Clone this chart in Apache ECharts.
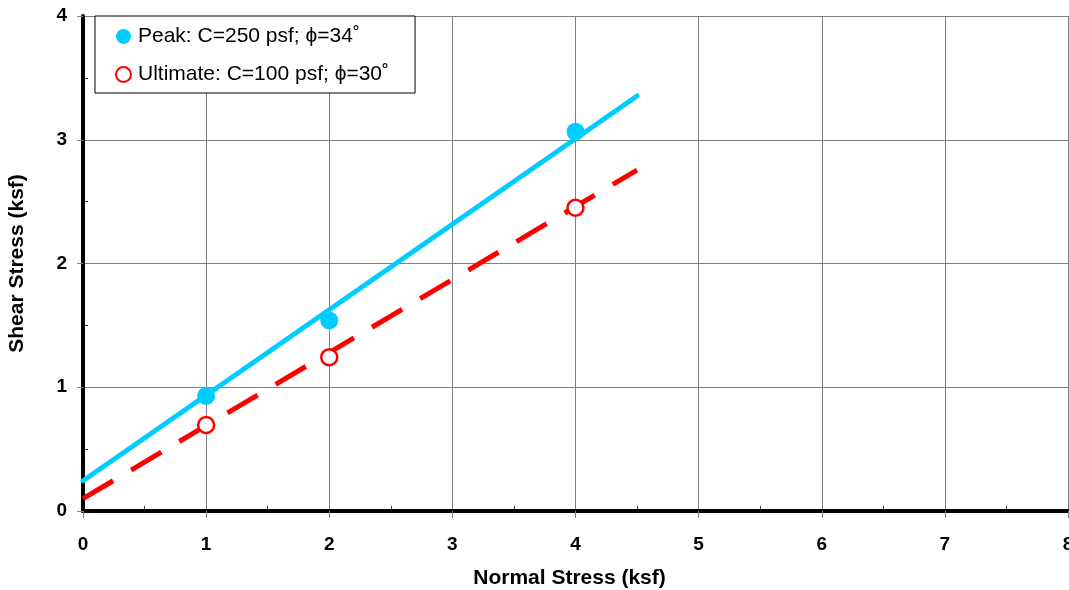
<!DOCTYPE html>
<html>
<head>
<meta charset="utf-8">
<script src="https://cdn.jsdelivr.net/npm/echarts@6/dist/echarts.min.js"></script>
<style>
  html, body { margin: 0; padding: 0; background: #fff; }
  #chart { width: 1069px; height: 590px; }
</style>
</head>
<body>
<div id="chart"></div>
<script>
// 试验点
const normalStress = [1, 2, 4]
const peakShear = [0.93, 1.54, 3.065]
const ultimateShear = [0.695, 1.242, 2.45]
// 拟合线端点
const fitX = [0, 4.5]
const peakFit = [0.245, 3.354]
const ultimateFit = [0.1, 2.755]

const peakName = 'Peak: C=250 psf; \u03d5=34\u02da'
const ultName = 'Ultimate: C=100 psf; \u03d5=30\u02da'

const font = '"Liberation Sans", Arial, sans-serif'
const gridColor = '#808080'

const toPairs = (xs, ys) => xs.map((x, i) => [x, ys[i]])

const myChart = echarts.init(document.getElementById('chart'))

const option = {
  backgroundColor: '#fff',
  animation: false,
  textStyle: { fontFamily: font },
  grid: { left: 83, right: 1, top: 16, bottom: 79, containLabel: false, outerBoundsMode: 'none' },
  legend: {
    left: 95,
    top: 16,
    orient: 'vertical',
    data: [
      { name: peakName, icon: 'circle' },
      { name: ultName, icon: 'circle' },
    ],
    itemWidth: 15,
    itemHeight: 15,
    itemGap: 17,
    padding: [10, 26, 8, 20],
    backgroundColor: '#fff',
    borderColor: '#000',
    borderWidth: 1,
    borderRadius: 0,
    z: 10,
    textStyle: { fontFamily: font, fontSize: 21, lineHeight: 21, color: '#000', padding: [0, 0, 0, 2] },
  },
  xAxis: [
    {
      type: 'value',
      min: 0,
      max: 8,
      interval: 1,
      name: 'Normal Stress (ksf)',
      nameLocation: 'middle',
      nameGap: 57,
      nameTextStyle: { fontFamily: font, fontSize: 21, fontWeight: 'bold', color: '#000', padding: [0, 12, 0, 0] },
      axisLine: { show: true, onZero: false, lineStyle: { color: '#000', width: 4 } },
      axisTick: { show: true, length: 7, lineStyle: { color: gridColor, width: 1 } },
      axisLabel: { fontFamily: font, fontSize: 19, fontWeight: 'bold', color: '#000', margin: 24, showMaxLabel: true },
      splitLine: { show: true, lineStyle: { color: gridColor, width: 1 } },
      z: 3,
    },
    {
      // 次刻度 (朝内)
      type: 'value',
      position: 'bottom',
      min: 0,
      max: 8,
      interval: 0.5,
      axisLine: { show: false },
      axisTick: { show: true, inside: true, length: 5, lineStyle: { color: '#333', width: 1 } },
      axisLabel: { show: false },
      splitLine: { show: false },
    },
    {
      // 顶部边框
      type: 'value',
      position: 'top',
      min: 0,
      max: 8,
      axisLine: { show: true, lineStyle: { color: '#000', width: 4 } },
      axisTick: { show: false },
      axisLabel: { show: false },
      splitLine: { show: false },
    },
  ],
  yAxis: [
    {
      type: 'value',
      min: 0,
      max: 4,
      interval: 1,
      name: 'Shear Stress (ksf)',
      nameLocation: 'middle',
      nameGap: 55,
      nameTextStyle: { fontFamily: font, fontSize: 21, fontWeight: 'bold', color: '#000' },
      axisLine: { show: true, onZero: false, lineStyle: { color: '#000', width: 4 } },
      axisTick: { show: true, length: 6, lineStyle: { color: gridColor, width: 1 } },
      axisLabel: { fontFamily: font, fontSize: 19, fontWeight: 'bold', color: '#000', margin: 16 },
      splitLine: { show: true, lineStyle: { color: gridColor, width: 1 } },
      z: 3,
    },
    {
      type: 'value',
      position: 'left',
      min: 0,
      max: 4,
      interval: 0.5,
      axisLine: { show: false },
      axisTick: { show: true, inside: true, length: 5, lineStyle: { color: '#333', width: 1 } },
      axisLabel: { show: false },
      splitLine: { show: false },
    },
    {
      // 右侧边框
      type: 'value',
      position: 'right',
      min: 0,
      max: 4,
      axisLine: { show: true, lineStyle: { color: '#222', width: 2 } },
      axisTick: { show: false },
      axisLabel: { show: false },
      splitLine: { show: false },
    },
  ],
  series: [
    {
      name: 'peakFit',
      type: 'line',
      data: toPairs(fitX, peakFit),
      symbol: 'none',
      lineStyle: { color: '#00CCFF', width: 5, cap: 'round' },
      z: 4,
    },
    {
      name: 'ultimateFit',
      type: 'line',
      data: toPairs(fitX, ultimateFit),
      symbol: 'none',
      lineStyle: { color: '#FF0000', width: 5, type: [35, 21], cap: 'butt' },
      z: 4,
    },
    {
      name: peakName,
      type: 'scatter',
      data: toPairs(normalStress, peakShear),
      symbol: 'circle',
      symbolSize: 18,
      itemStyle: { color: '#00CCFF', opacity: 1 },
      z: 5,
    },
    {
      name: ultName,
      type: 'scatter',
      data: toPairs(normalStress, ultimateShear),
      symbol: 'circle',
      symbolSize: 16,
      itemStyle: { color: '#fff', borderColor: '#FF0000', borderWidth: 2.5, opacity: 1 },
      z: 5,
    },
  ],
}

myChart.setOption(option)
</script>
</body>
</html>
